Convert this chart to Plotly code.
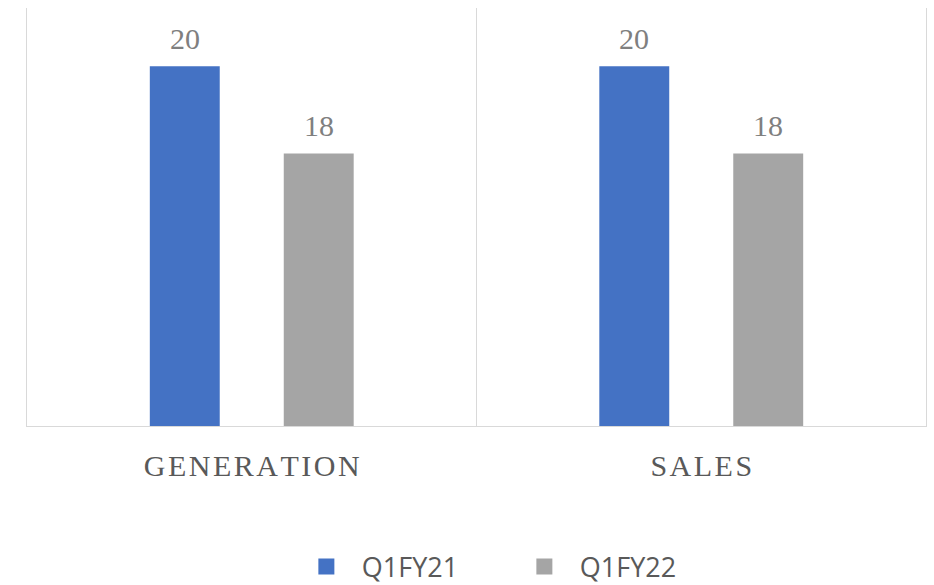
import plotly.graph_objects as go

categories = ["GENERATION", "SALES"]
q1fy21 = [20, 20]
q1fy22 = [18, 18]
series_names = ["Q1FY21", "Q1FY22"]
colors = ["#4472C4", "#A5A5A5"]
label_shift = [-67, 67]

HS = "\u200a"
def spaced(s):
    return HS.join(list(s))

fig = go.Figure()
for name, vals, col, dx in zip(series_names, [q1fy21, q1fy22], colors, label_shift):
    fig.add_trace(go.Bar(
        x=categories, y=vals, name=name, marker_color=col,
        marker_line_width=0, showlegend=False,
    ))
    fig.add_trace(go.Scatter(
        x=[None], y=[None], mode="markers", name=name,
        marker=dict(symbol="square", size=16, color=col),
    ))
    for c, v in zip(categories, vals):
        fig.add_annotation(
            x=c, y=v, xref="x", yref="y", text=str(v), showarrow=False,
            xshift=dx, yshift=28, yanchor="middle",
            font=dict(family="Liberation Serif", size=30, color="#7F7F7F"),
        )

fig.update_layout(
    width=934, height=585,
    margin=dict(l=27, r=8, t=8, b=159, autoexpand=False),
    paper_bgcolor="white", plot_bgcolor="white",
    barmode="group", bargap=0.404, bargroupgap=0.478,
    xaxis=dict(
        type="category", automargin=False,
        tickmode="array", tickvals=categories,
        ticktext=[spaced(c) for c in categories],
        tickson="boundaries", showgrid=True, gridcolor="#D9D9D9", gridwidth=1,
        showline=True, linecolor="#D9D9D9", linewidth=1,
        ticks="", ticklabelstandoff=13,
        tickfont=dict(family="Liberation Serif", size=30, color="#595959"),
    ),
    yaxis=dict(
        range=[11.77, 21.33], showgrid=False, zeroline=False, automargin=False,
        showticklabels=False, showline=True, mirror=True,
        linecolor="#D9D9D9", linewidth=1, ticks="",
    ),
    legend=dict(
        orientation="h", x=0.536, xanchor="center", y=-0.337, yanchor="middle",
        font=dict(family="Open Sans", size=27, color="#595959"),
        itemwidth=61, entrywidth=142, tracegroupgap=0,
    ),
)

fig.write_html(
    "out.html",
    config={"displayModeBar": False},
    post_script="document.body.style.margin='0';document.body.style.overflow='hidden';",
)
